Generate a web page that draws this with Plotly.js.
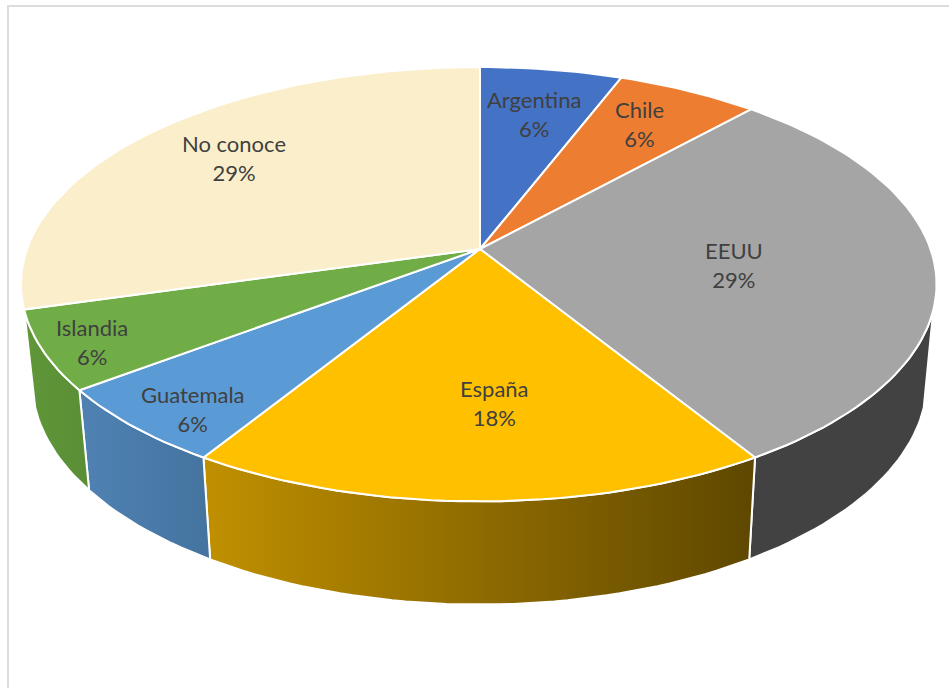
<!DOCTYPE html>
<html>
<head>
<meta charset="utf-8">
<script src="https://cdn.plot.ly/plotly-3.0.1.min.js"></script>
<style>html,body{margin:0;padding:0;background:#fff}#chart{width:949px;height:688px}</style>
</head>
<body>
<div id="chart"></div>
<script>
// Respondents by country
const countries = ['Argentina', 'Chile', 'EEUU', 'España', 'Guatemala', 'Islandia', 'No conoce'];
const counts = [1, 1, 5, 3, 1, 1, 5];

const topColors = ['#4472C4', '#ED7D31', '#A5A5A5', '#FFC000', '#5B9BD5', '#70AD47', '#FBEFCB'];
// Rim shading, left colour then right colour; null where the rim is out of sight
const rimShades = [null, null, ['#424242', '#424242'], ['#C09000', '#5E4700'],
                   ['#4F82B3', '#44739F'], ['#609739', '#5A8E36'], null];

// Label centres in page pixels
const labelX = [534, 639, 734, 494, 193, 92, 234];
const labelY = [113.5, 123.5, 264.5, 403, 408.5, 342, 157.5];

// Perspective disc: a top face and a lower copy seen from above
const topFace = {cx: 480, cy: 249, aRight: 450.5, aLeft: 453, b: 211.5};
const baseFace = {cx: 480, cy: 345, aRight: 441, aLeft: 442, b: 217.5};
const depth = 0.162;
const rimStart = 106, rimEnd = 254;   // degrees clockwise from 12 o'clock

function project(face, deg, r) {
  const t = deg * Math.PI / 180, s = Math.sin(t) * r, c = Math.cos(t) * r;
  const d = 1 + depth * c;
  const a = s < 0 ? face.aLeft : face.aRight;
  return [face.cx + a * s / d, face.cy - face.b * c / d];
}
function arc(face, from, to) {
  const n = Math.max(2, Math.ceil(Math.abs(to - from) / 1.5));
  const pts = [];
  for (let i = 0; i <= n; i++) pts.push(project(face, from + (to - from) * i / n, 1));
  return pts;
}
function closed(pts, extra) {
  return {
    type: 'scatter', mode: 'lines', hoverinfo: 'skip', showlegend: false,
    x: pts.map(p => p[0]), y: pts.map(p => p[1]),
    fill: 'toself', line: {color: '#FFFFFF', width: 2, shape: 'linear'}, ...extra
  };
}

const total = counts.reduce((a, b) => a + b, 0);
const rims = [], tops = [];
let running = 0;
counts.forEach((v, i) => {
  const from = running / total * 360;
  running += v;
  const to = running / total * 360;

  tops.push(closed([project(topFace, 0, 0), ...arc(topFace, from, to), project(topFace, 0, 0)],
    {fillcolor: topColors[i], name: countries[i]}));

  const lo = Math.max(from, rimStart), hi = Math.min(to, rimEnd);
  if (rimShades[i] && hi > lo) {
    const outline = [...arc(topFace, lo, hi), ...arc(baseFace, hi, lo)];
    outline.push(outline[0]);
    rims.push(closed(outline, {
      fillgradient: {type: 'horizontal', colorscale: [[0, rimShades[i][0]], [1, rimShades[i][1]]]}
    }));
  }
});

const labels = countries.map((name, i) => ({
  x: labelX[i], y: labelY[i], xref: 'x', yref: 'y', showarrow: false,
  xanchor: 'center', yanchor: 'middle', align: 'center',
  text: name + '<br>' + Math.round(counts[i] / total * 100) + '%',
  font: {family: 'Lato, "Open Sans", sans-serif', size: 22, color: '#404040'}
}));

const frameColor = '#DCDCDC';
Plotly.newPlot('chart', [...rims, ...tops], {
  width: 949, height: 688,
  margin: {l: 0, r: 0, t: 0, b: 0},
  paper_bgcolor: '#FFFFFF', plot_bgcolor: '#FFFFFF',
  showlegend: false,
  xaxis: {range: [0, 949], visible: false, fixedrange: true},
  yaxis: {range: [688, 0], visible: false, fixedrange: true},
  annotations: labels,
  shapes: [
    {type: 'line', xref: 'x', yref: 'y', x0: 8, x1: 8, y0: 6, y1: 688, line: {color: frameColor, width: 2}},
    {type: 'line', xref: 'x', yref: 'y', x0: 7, x1: 949, y0: 6, y1: 6, line: {color: frameColor, width: 2}}
  ]
}, {staticPlot: true});
</script>
</body>
</html>
